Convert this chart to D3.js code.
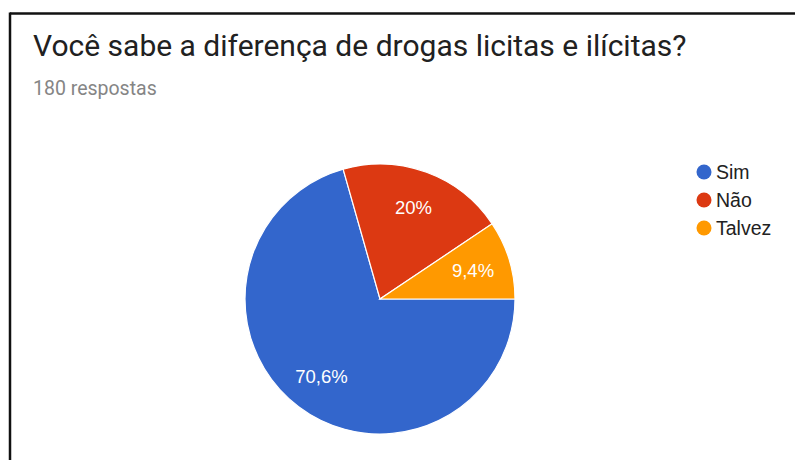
<!DOCTYPE html>
<html>
<head>
<meta charset="utf-8">
<script src="https://cdn.jsdelivr.net/npm/d3@7"></script>
<style>
  html, body { margin: 0; padding: 0; background: #fff; }
  svg { display: block; }
</style>
</head>
<body>
<svg id="chart" width="795" height="460"></svg>
<script>
const title = "Você sabe a diferença de drogas licitas e ilícitas?";
const subtitle = "180 respostas";
const categories = ["Sim", "Não", "Talvez"];
const values = [70.6, 20, 9.4];
const labels = ["70,6%", "20%", "9,4%"];
const colors = ["#3366CC", "#DC3912", "#FF9900"];

const svg = d3.select("#chart");
const W = 795, H = 460;

svg.append("rect").attr("x", 0).attr("y", 0).attr("width", W).attr("height", H).attr("fill", "#fff");

// frame border (top and left visible)
svg.append("line").attr("x1", 10).attr("x2", W + 5).attr("y1", 13.5).attr("y2", 13.5)
  .attr("stroke", "#111").attr("stroke-width", 2.5);
svg.append("line").attr("x1", 10).attr("x2", 10).attr("y1", 12.5).attr("y2", H + 5)
  .attr("stroke", "#111").attr("stroke-width", 2.5);

svg.append("text").attr("x", 33).attr("y", 56)
  .attr("font-family", "Roboto, Arial, sans-serif").attr("font-size", 30)
  .attr("fill", "#212121").text(title);

svg.append("text").attr("x", 33).attr("y", 95)
  .attr("font-family", "Roboto, Arial, sans-serif").attr("font-size", 19.5)
  .attr("fill", "#858585").text(subtitle);

const cx = 380, cy = 299, r = 135;
const data = categories.map((c, i) => ({ cat: c, value: values[i], label: labels[i], color: colors[i] }));

const pie = d3.pie().value(d => d.value).sort(null)
  .startAngle(Math.PI / 2).endAngle(Math.PI / 2 + 2 * Math.PI);
const arcs = pie(data);
const arc = d3.arc().innerRadius(0).outerRadius(r);
const labelArc = d3.arc().innerRadius(r * 0.72).outerRadius(r * 0.72);

const g = svg.append("g").attr("transform", `translate(${cx},${cy})`);
g.selectAll("path").data(arcs).join("path")
  .attr("d", arc).attr("fill", d => d.data.color)
  .attr("stroke", "#fff").attr("stroke-width", 1.2);

g.selectAll("text").data(arcs).join("text")
  .attr("transform", d => `translate(${labelArc.centroid(d)})`)
  .attr("text-anchor", "middle").attr("dy", "0.36em")
  .attr("font-family", "Arial, 'Liberation Sans', sans-serif").attr("font-size", 18.5)
  .attr("fill", "#fff").text(d => d.data.label);

const legend = svg.append("g");
const ly = d3.scalePoint().domain(categories).range([172, 228]);
const items = legend.selectAll("g").data(data).join("g")
  .attr("transform", d => `translate(704,${ly(d.cat)})`);
items.append("circle").attr("r", 7.5).attr("fill", d => d.color);
items.append("text").attr("x", 12).attr("dy", "0.36em")
  .attr("font-family", "Arial, 'Liberation Sans', sans-serif").attr("font-size", 19.5)
  .attr("fill", "#222").text(d => d.cat);
</script>
</body>
</html>
